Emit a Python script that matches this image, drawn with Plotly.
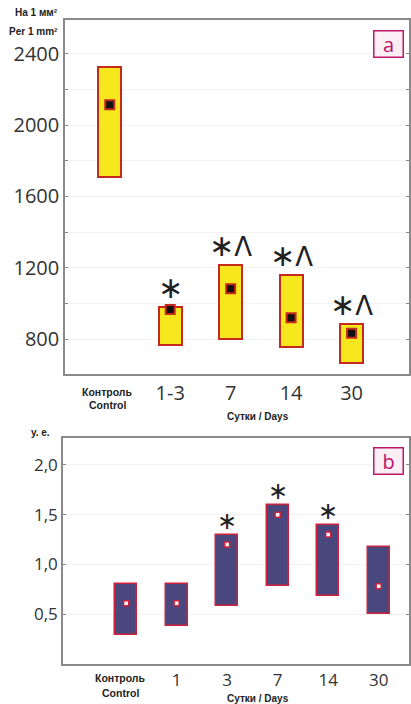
import plotly.graph_objects as go

# ---- Panel a data ----
a_categories = ["Контроль", "1-3", "7", "14", "30"]
a_ticklabels = ["", "1-3", "7", "14", "30"]
a_low = [1710, 765, 800, 755, 668]
a_high = [2325, 980, 1215, 1158, 882]
a_mean = [2115, 966, 1082, 920, 832]
a_marks = ["", "*", "*Λ", "*Λ", "*Λ"]
a_yticks = [800, 1200, 1600, 2000, 2400]

# ---- Panel b data ----
b_categories = ["Контроль", "1", "3", "7", "14", "30"]
b_ticklabels = ["", "1", "3", "7", "14", "30"]
b_low = [0.29, 0.38, 0.58, 0.78, 0.68, 0.50]
b_high = [0.80, 0.80, 1.30, 1.60, 1.40, 1.18]
b_mean = [0.61, 0.61, 1.20, 1.50, 1.30, 0.78]
b_marks = ["", "", "*", "*", "*", ""]
b_yticks = [0.5, 1.0, 1.5, 2.0]
b_yticklabels = ["0,5", "1,0", "1,5", "2,0"]

W, H = 411, 704
def px(v):  # x pixel -> paper
    return v / W
def py(v):  # y pixel -> paper
    return 1 - v / H

fig = go.Figure()

# Panel a boxes
fig.add_trace(go.Bar(
    x=a_categories, y=[h - l for h, l in zip(a_high, a_low)], base=a_low,
    width=0.38, marker=dict(color="#f6e81c", line=dict(color="#c62a1f", width=2)),
    xaxis="x", yaxis="y", showlegend=False, hoverinfo="skip"))
fig.add_trace(go.Scatter(
    x=a_categories, y=a_mean, mode="markers",
    marker=dict(symbol="square", size=9, color="#111111", line=dict(color="#c62a1f", width=2)),
    xaxis="x", yaxis="y", showlegend=False))

# Panel b boxes
fig.add_trace(go.Bar(
    x=b_categories, y=[h - l for h, l in zip(b_high, b_low)], base=b_low,
    width=0.44, marker=dict(color="#4a477f", line=dict(color="#d0213a", width=1.5)),
    xaxis="x2", yaxis="y2", showlegend=False, hoverinfo="skip"))
fig.add_trace(go.Scatter(
    x=b_categories, y=b_mean, mode="markers",
    marker=dict(symbol="square", size=5, color="#ffffff", line=dict(color="#d0213a", width=1.5)),
    xaxis="x2", yaxis="y2", showlegend=False))

num_font = dict(family="Open Sans", size=20, color="#333333")
axis_common = dict(showline=True, linecolor="#8a8a8a", linewidth=1.5, mirror="ticks",
                   zeroline=False)

fig.update_layout(
    width=W, height=H, margin=dict(l=0, r=0, t=0, b=0),
    paper_bgcolor="white", plot_bgcolor="white", bargap=0,
    xaxis=dict(domain=[px(65), px(409)], anchor="y", range=[-0.74, 4.95], type="category",
               tickvals=a_categories, ticktext=a_ticklabels, tickangle=0,
               tickfont=num_font, ticks="", showgrid=False, **axis_common),
    yaxis=dict(domain=[py(374), py(20)], anchor="x", range=[604, 2590],
               tickvals=a_yticks, tickfont=num_font, ticks="inside", ticklen=3,
               tickcolor="#888", showgrid=True, gridcolor="#f3f3f3",
               minor=dict(dtick=200, tick0=0, ticks="inside", ticklen=3, tickcolor="#888",
                          showgrid=True, gridcolor="#f3f3f3"),
               **axis_common),
    xaxis2=dict(domain=[px(63), px(409)], anchor="y2", range=[-1.25, 5.6], type="category",
                tickvals=b_categories, ticktext=b_ticklabels, tickangle=0,
                tickfont=dict(family="Open Sans", size=17, color="#333333"),
                ticks="", showgrid=False, **axis_common),
    yaxis2=dict(domain=[py(664), py(438)], anchor="x2", range=[0, 2.27],
                tickvals=b_yticks, ticktext=b_yticklabels,
                tickfont=dict(family="Open Sans", size=17, color="#333333"),
                ticks="inside", ticklen=3, tickcolor="#888",
                showgrid=True, gridcolor="#f3f3f3", **axis_common),
)

def mark_text(m, big, small):
    out = ""
    for ch in m:
        if ch == "*":
            out += f"<span style='font-size:{big}px'>∗</span>"
        else:
            out += f"<span style='font-size:{small}px'>{ch}</span>"
    return out

annotations = []
# significance marks
for i, (top, m) in enumerate(zip(a_high, a_marks)):
    if m:
        annotations.append(dict(x=i, y=top, xref="x", yref="y", text=mark_text(m, 30, 26),
                                showarrow=False, yanchor="bottom", yshift=0,
                                font=dict(family="DejaVu Sans", size=24, color="#222222")))
for i, (top, m) in enumerate(zip(b_high, b_marks)):
    if m:
        annotations.append(dict(x=i, y=top, xref="x2", yref="y2", text=mark_text(m, 24, 20),
                                showarrow=False, yanchor="bottom", yshift=-2,
                                font=dict(family="DejaVu Sans", size=20, color="#222222")))

small_bold = dict(family="Liberation Sans", size=10, color="#222222")
ctrl_font = dict(family="Liberation Sans", size=10.5, color="#222222")
annotations += [
    dict(x=px(60), y=py(12), xref="paper", yref="paper", xanchor="right", yanchor="middle",
         text="<b>На 1 мм²</b>", showarrow=False, font=small_bold),
    dict(x=px(60), y=py(31), xref="paper", yref="paper", xanchor="right", yanchor="middle",
         text="<b>Per 1 mm²</b>", showarrow=False, font=small_bold),
    dict(x=0, y=py(392), xref="x", yref="paper", xanchor="center", yanchor="middle", xshift=-2,
         text="<b>Контроль</b>", showarrow=False, font=ctrl_font),
    dict(x=0, y=py(405), xref="x", yref="paper", xanchor="center", yanchor="middle", xshift=-2,
         text="<b>Control</b>", showarrow=False, font=ctrl_font),
    dict(x=px(258), y=py(416), xref="paper", yref="paper", xanchor="center", yanchor="middle",
         text="<b>Сутки / Days</b>", showarrow=False, font=small_bold),
    dict(x=px(52), y=py(432), xref="paper", yref="paper", xanchor="right", yanchor="middle",
         text="<b>у. е.</b>", showarrow=False, font=small_bold),
    dict(x=0, y=py(678), xref="x2", yref="paper", xanchor="center", yanchor="middle", xshift=-6,
         text="<b>Контроль</b>", showarrow=False, font=ctrl_font),
    dict(x=0, y=py(693), xref="x2", yref="paper", xanchor="center", yanchor="middle", xshift=-6,
         text="<b>Control</b>", showarrow=False, font=ctrl_font),
    dict(x=px(258), y=py(698), xref="paper", yref="paper", xanchor="center", yanchor="middle",
         text="<b>Сутки / Days</b>", showarrow=False, font=small_bold),
    dict(x=px(388), y=py(44), xref="paper", yref="paper", xanchor="center", yanchor="middle",
         text="a", showarrow=False, width=28, height=25, borderpad=0,
         bordercolor="#c0176b", borderwidth=1.5, bgcolor="#fbeef4",
         font=dict(family="Open Sans", size=20, color="#b8146a")),
    dict(x=px(388), y=py(461), xref="paper", yref="paper", xanchor="center", yanchor="middle",
         text="b", showarrow=False, width=28, height=25, borderpad=0,
         bordercolor="#c0176b", borderwidth=1.5, bgcolor="#fbeef4",
         font=dict(family="Open Sans", size=20, color="#b8146a")),
]
fig.update_layout(annotations=annotations)

fig.write_html("out.html", config={"displayModeBar": False},
               post_script="document.body.style.margin='0';document.body.style.overflow='hidden';")
